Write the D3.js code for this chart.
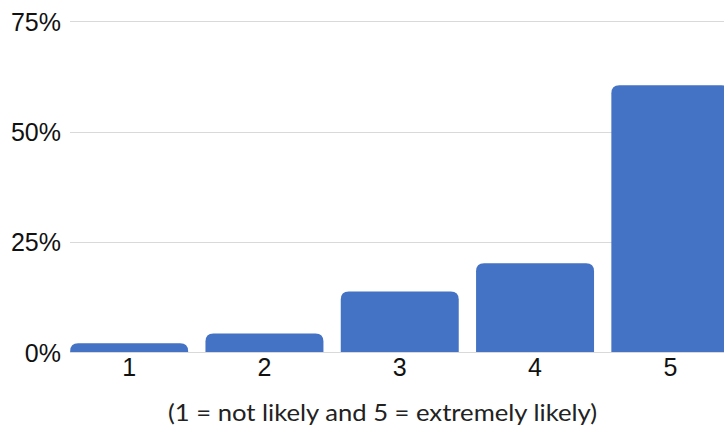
<!DOCTYPE html>
<html>
<head>
<meta charset="utf-8">
<script src="https://cdn.jsdelivr.net/npm/d3@7/dist/d3.min.js"></script>
<style>
  html, body { margin: 0; padding: 0; background: #fff; }
  svg { display: block; }
</style>
</head>
<body>
<svg id="chart" width="724" height="430"></svg>
<script>
const categories = ["1", "2", "3", "4", "5"];
const values = [0.02, 0.042, 0.137, 0.201, 0.605];
const yTicks = [0, 0.25, 0.5, 0.75];
const caption = "(1 = not likely and 5 = extremely likely)";

const svg = d3.select("#chart");
const W = 724, H = 430;

const x = d3.scaleBand().domain(categories).range([61.5, 738]).paddingInner(0.128).paddingOuter(0.064);
const y = d3.scaleLinear().domain([0, 0.75]).range([352, 21.3]);

// gridlines
svg.append("g").selectAll("line").data(yTicks).join("line")
  .attr("x1", 70).attr("x2", W)
  .attr("y1", d => Math.round(y(d)) + 0.5).attr("y2", d => Math.round(y(d)) + 0.5)
  .attr("stroke", "#d9d9d9").attr("stroke-width", 1);

// y labels
const yAxis = d3.axisLeft(y).tickValues(yTicks).tickFormat(d3.format(".0%")).tickSize(0).tickPadding(0);
const gy = svg.append("g").attr("transform", "translate(61,0)").call(yAxis);
gy.select(".domain").remove();
gy.selectAll("text").attr("font-family", "Liberation Sans, Arial, sans-serif").attr("font-size", 25).attr("fill", "#111").attr("dy", "0.36em");

// bars with rounded top corners
const r = 8;
function barPath(x0, w, yTop, yBase) {
  const rr = Math.min(r, (yBase - yTop), w / 2);
  return `M${x0},${yBase}V${yTop + rr}Q${x0},${yTop} ${x0 + rr},${yTop}H${x0 + w - rr}Q${x0 + w},${yTop} ${x0 + w},${yTop + rr}V${yBase}Z`;
}
svg.append("g").selectAll("path").data(categories).join("path")
  .attr("d", (c, i) => barPath(x(c), x.bandwidth(), y(values[i]), y(0)))
  .attr("fill", "#4472c4");

// x labels
const xAxis = d3.axisBottom(x).tickSize(0).tickPadding(0);
const gx = svg.append("g").attr("transform", "translate(0,358)").call(xAxis);
gx.select(".domain").remove();
gx.selectAll("text").attr("font-family", "Liberation Sans, Arial, sans-serif").attr("font-size", 25).attr("fill", "#111").attr("dy", "0.71em");

// caption
svg.append("text").attr("x", 382.5).attr("y", 421)
  .attr("text-anchor", "middle")
  .attr("font-family", "Lato, 'Open Sans', sans-serif").attr("font-size", 23).attr("fill", "#222")
  .attr("textLength", 429).attr("lengthAdjust", "spacingAndGlyphs")
  .text(caption);
</script>
</body>
</html>
